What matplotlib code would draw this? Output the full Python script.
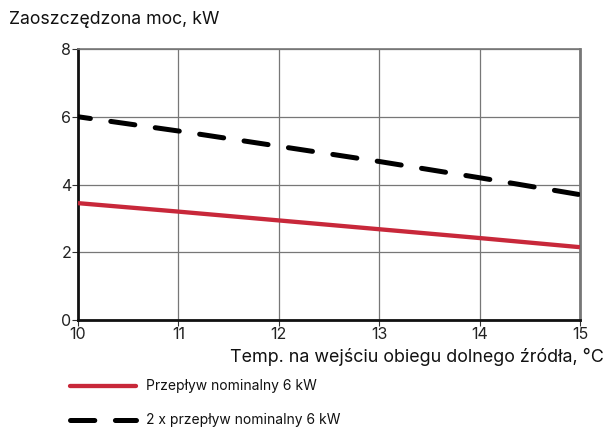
import matplotlib
matplotlib.use('Agg')
import matplotlib.pyplot as plt
from matplotlib.lines import Line2D

plt.rcParams['font.family'] = ['Inter', 'DejaVu Sans']

# data
temp = [10, 11, 12, 13, 14, 15]
nominal = [3.45, 3.2, 2.94, 2.68, 2.42, 2.15]
double_nominal = [6.0, 5.58, 5.13, 4.68, 4.2, 3.7]
xticks = [10, 11, 12, 13, 14, 15]
yticks = [0, 2, 4, 6, 8]
red = '#c8283a'

fig = plt.figure(figsize=(6.06, 4.28), dpi=100)
ax = fig.add_axes([0.1287, 0.2523, 0.8283, 0.6332])

ax.plot(temp, nominal, color=red, lw=3.1, solid_capstyle='butt', zorder=3)
ax.plot(temp, double_nominal, color='black', lw=3.6, ls=(2.36, (4.86, 4.12)),
        dash_capstyle='round', zorder=3)

ax.set_xlim(10, 15)
ax.set_ylim(0, 8)
ax.set_xticks(xticks)
ax.set_yticks(yticks)
ax.grid(True, color='#777777', lw=0.9)
ax.tick_params(labelsize=11.5, colors='#333333', length=4, width=0.8, pad=1)
for lab in ax.get_xticklabels() + ax.get_yticklabels():
    lab.set_color('#222222')

for s in ['top', 'right']:
    ax.spines[s].set_color('#777777')
    ax.spines[s].set_linewidth(1.2)
ax.spines['right'].set_linewidth(2)
for s in ['left', 'bottom']:
    ax.spines[s].set_color('#111111')
    ax.spines[s].set_linewidth(2)

fig.text(9 / 606, 1 - 20 / 428, 'Zaoszczędzona moc, kW', fontsize=12.7,
         ha='left', va='center', color='#111111')
fig.text(604 / 606, 1 - 357 / 428, 'Temp. na wejściu obiegu dolnego źródła, °C',
         fontsize=12.9, ha='right', va='center', color='#111111')

# legend drawn by hand as figure lines
fig.add_artist(Line2D([70 / 606, 136 / 606], [1 - 386 / 428] * 2, color=red, lw=3.1,
                      solid_capstyle='round'))
fig.add_artist(Line2D([70 / 606, 136 / 606], [1 - 420 / 428] * 2, color='black', lw=3.6,
                      ls=(0, (4.86, 4.12)), dash_capstyle='round'))
fig.text(146 / 606, 1 - 386 / 428, 'Przepływ nominalny 6 kW', fontsize=10,
         ha='left', va='center', color='#111111')
fig.text(146 / 606, 1 - 420 / 428, '2 x przepływ nominalny 6 kW', fontsize=10,
         ha='left', va='center', color='#111111')

fig.savefig('out.png', dpi=100)
